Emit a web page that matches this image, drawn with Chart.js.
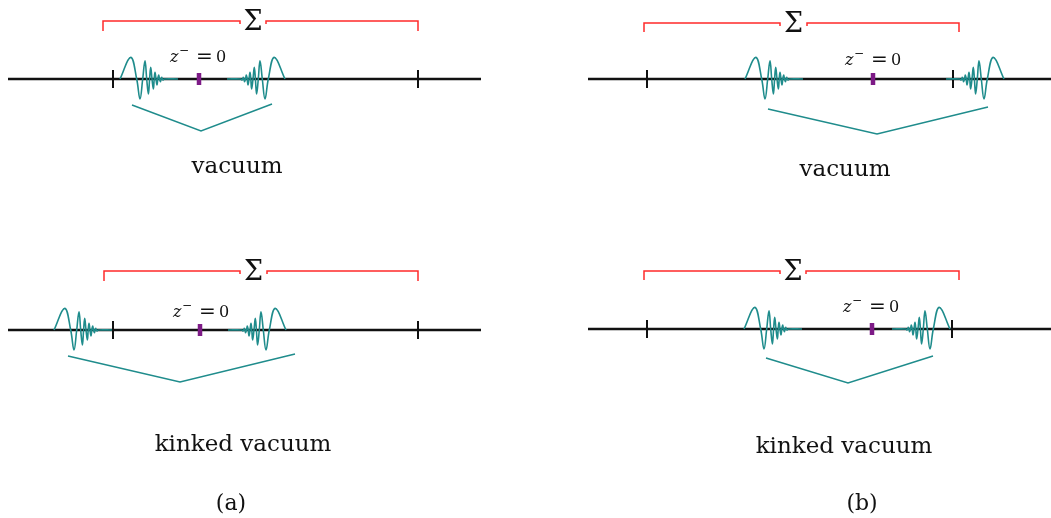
<!DOCTYPE html>
<html>
<head>
<meta charset="utf-8">
<script src="https://cdn.jsdelivr.net/npm/chart.js@4.4.1/dist/chart.umd.min.js"></script>
<style>
  html, body { margin: 0; padding: 0; background: #fff; }
  #wrap { width: 1051px; height: 518px; }
</style>
</head>
<body>
<div id="wrap"><canvas id="diagram" width="1051" height="518"></canvas></div>
<script>
// Four strips: (a) vacuum, (a) kinked vacuum, (b) vacuum, (b) kinked vacuum
const rowY = [79, 330, 79, 329];
const lineX0 = [8, 8, 588, 588];
const lineX1 = [481, 481, 1051, 1051];
const tickXs = [[113, 418], [113, 418], [647, 953], [647, 952]];
const zeroMarkX = [199, 200, 873, 872];

// Sigma bracket above each strip
const braceX0 = [103, 104, 644, 644];
const braceX1 = [418, 418, 959, 959];
const braceTopY = [21, 271, 23, 271];
const braceEndY = [31, 281, 32, 280];
const sigmaGap = [[240, 266], [240, 267], [780, 807], [780, 806]];

// wave packets: left one starts here, right one ends here
const packetLeftStart = [120, 54, 745, 744];
const packetRightEnd = [285, 286, 1004, 950];
// one packet (distance from outer end, height above line)
const waveDx = [0, 10.7, 16.7, 20, 22.7, 25, 26.7, 28.4, 29.6, 30.7, 32, 33.4, 34.2, 35, 36, 37, 37.8, 38.7, 39.5, 40.4, 41, 41.7, 42.3, 43, 44, 58];
const waveDy = [0, 21.6, 0, -20, 0, 18.3, 0, -15, 0, 11.6, 0, -10, 0, 6.6, 0, -6, 0, 4, 0, -2.7, 0, 1.6, 0, -1, 0, 0];

// teal V under each strip: left end, bottom, right end
const vPoints = [
  [[132, 105], [201, 131], [272, 104]],
  [[68, 356], [180, 382], [295, 354]],
  [[768, 109], [877, 134], [988, 107]],
  [[766, 358], [848, 383], [933, 356]]
];

// text
const zLabelX = [170, 173, 845, 843];
const zLabelBase = [62, 317, 65, 312];
const captions = ['vacuum', 'kinked vacuum', 'vacuum', 'kinked vacuum'];
const captionX = [237, 243, 845, 844];
const captionBase = [173, 451, 176, 453];
const panelNames = ['(a)', '(b)'];
const panelNameX = [231, 862];
const panelNameBase = [510, 510];

const BLACK = '#111111';
const TEAL = '#1f8c8c';
const RED = '#ff2a2a';
const PURPLE = '#7d1a86';

function seg(points, color, width, order, tension) {
    return {
        data: points.map(p => ({ x: p[0], y: p[1] })),
        showLine: true,
        borderColor: color,
        borderWidth: width,
        pointRadius: 0,
        tension: tension || 0,
        fill: false,
        order: order
    };
}

const datasets = [];
for (let i = 0; i < 4; i++) {
    const y0 = rowY[i];
    // main line
    datasets.push(seg([[lineX0[i], y0], [lineX1[i], y0]], BLACK, 2.5, 5));
    // ticks
    tickXs[i].forEach(tx => datasets.push(seg([[tx, y0 - 9], [tx, y0 + 9]], BLACK, 2, 4)));
    // z- = 0 mark
    datasets.push(seg([[zeroMarkX[i], y0 - 6], [zeroMarkX[i], y0 + 6]], PURPLE, 4.5, 1));
    // sigma bracket
    const g = sigmaGap[i];
    datasets.push(seg([[braceX0[i], braceEndY[i]], [braceX0[i], braceTopY[i]], [g[0], braceTopY[i]], [g[0], braceTopY[i] + 3]], RED, 1.5, 3));
    datasets.push(seg([[g[1], braceTopY[i] + 3], [g[1], braceTopY[i]], [braceX1[i], braceTopY[i]], [braceX1[i], braceEndY[i]]], RED, 1.5, 3));
    // wave packets
    const left = waveDx.map((d, k) => [packetLeftStart[i] + d, y0 - waveDy[k]]);
    const right = waveDx.map((d, k) => [packetRightEnd[i] - d, y0 - waveDy[k]]);
    datasets.push(seg(left, TEAL, 1.6, 2, 0.4));
    datasets.push(seg(right, TEAL, 1.6, 2, 0.4));
    // V under strip
    datasets.push(seg(vPoints[i], TEAL, 1.5, 2));
}

const textPlugin = {
    id: 'diagramText',
    afterDatasetsDraw(chart) {
        const ctx = chart.ctx;
        const xs = chart.scales.x, ys = chart.scales.y;
        ctx.save();
        ctx.fillStyle = '#111';
        ctx.textBaseline = 'alphabetic';
        for (let i = 0; i < 4; i++) {
            // Sigma
            ctx.textAlign = 'center';
            ctx.font = '27px "DejaVu Serif"';
            const g = sigmaGap[i];
            ctx.fillText('Σ', xs.getPixelForValue((g[0] + g[1]) / 2), ys.getPixelForValue(braceTopY[i] + 9));
            // z^- = 0
            ctx.textAlign = 'left';
            const zx = xs.getPixelForValue(zLabelX[i]);
            const zb = ys.getPixelForValue(zLabelBase[i]);
            ctx.font = 'italic 16px "DejaVu Serif"';
            ctx.fillText('z', zx, zb);
            ctx.font = '12px "DejaVu Serif"';
            ctx.fillText('−', zx + 9, zb - 8);
            ctx.font = '20px "DejaVu Serif"';
            ctx.fillText('=', zx + 26, zb + 1);
            ctx.font = '16px "DejaVu Serif"';
            ctx.fillText('0', zx + 46, zb);
            // caption
            ctx.textAlign = 'center';
            ctx.font = '23px "DejaVu Serif"';
            ctx.fillText(captions[i], xs.getPixelForValue(captionX[i]), ys.getPixelForValue(captionBase[i]));
        }
        ctx.font = '22px "DejaVu Serif"';
        panelNames.forEach((name, k) => {
            ctx.fillText(name, xs.getPixelForValue(panelNameX[k]), ys.getPixelForValue(panelNameBase[k]));
        });
        ctx.restore();
    }
};

new Chart(document.getElementById('diagram').getContext('2d'), {
    type: 'scatter',
    data: { datasets: datasets },
    options: {
        responsive: false,
        animation: false,
        layout: { padding: 0 },
        plugins: { legend: { display: false }, tooltip: { enabled: false } },
        scales: {
            x: { type: 'linear', min: 0, max: 1051, display: false },
            y: { type: 'linear', min: 0, max: 518, reverse: true, display: false }
        }
    },
    plugins: [textPlugin]
});
</script>
</body>
</html>
